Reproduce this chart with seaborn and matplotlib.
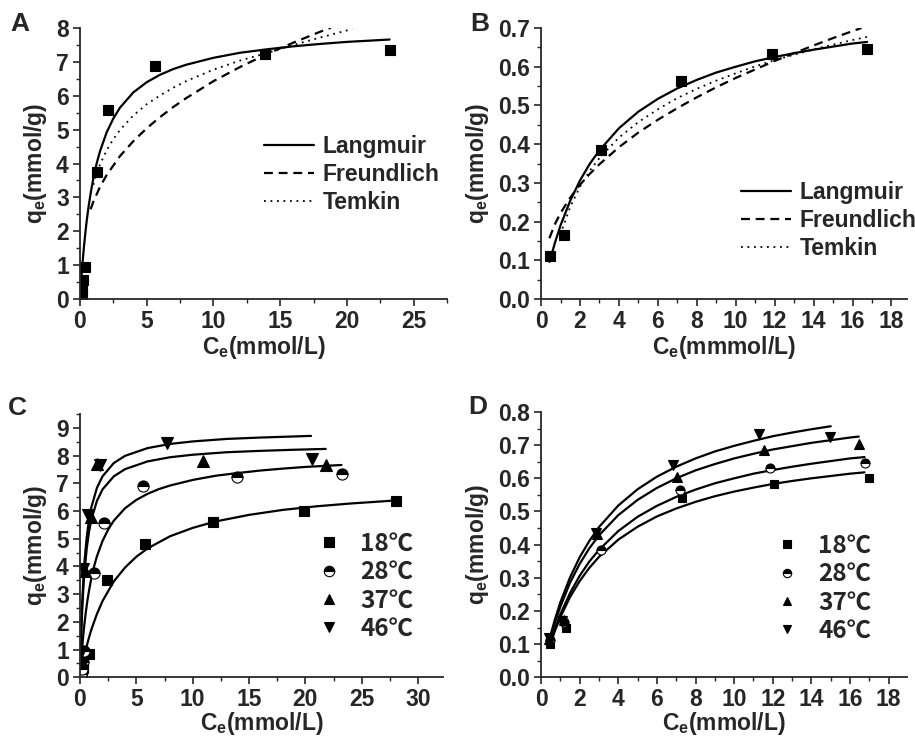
'''
    plot.py
    Adsorption isotherms (A, B) and temperature series (C, D).
'''
import matplotlib
matplotlib.use('Agg')
import matplotlib.pyplot as plt
import pandas as pd
import seaborn as sns
from matplotlib.lines import Line2D
from matplotlib.ticker import MultipleLocator

#################################################################################
# Data
#################################################################################

# panel A (28 C, high range)
A_ce = [0.12, 0.18, 0.25, 0.38, 1.25, 2.13, 5.63, 13.9, 23.25]
A_qe = [0.12, 0.30, 0.56, 0.95, 3.76, 5.58, 6.89, 7.22, 7.35]
A_lang_c = [0.05, 0.1, 0.15, 0.2, 0.3, 0.4, 0.5, 0.65, 0.8, 1, 1.25, 1.5, 2, 2.5,
            3, 4, 5, 6, 7, 8, 10, 12, 14, 16, 18, 20, 23.2]
A_lang_q = [0.31, 0.59, 0.86, 1.10, 1.55, 1.94, 2.29, 2.74, 3.12, 3.56, 4.00, 4.36,
            4.92, 5.33, 5.65, 6.10, 6.40, 6.62, 6.79, 6.92, 7.12, 7.27, 7.37, 7.46,
            7.53, 7.59, 7.66]
A_freu_c = [0.8, 1, 1.5, 2, 3, 4, 5, 6, 7, 8, 10, 12, 14, 16, 18, 18.8]
A_freu_q = [2.65, 2.87, 3.31, 3.66, 4.22, 4.66, 5.04, 5.37, 5.67, 5.94, 6.43, 6.85,
            7.23, 7.57, 7.89, 8.01]
A_temk_c = [1.0, 1.25, 1.5, 2, 2.5, 3, 4, 5, 6, 7, 8, 10, 12, 14, 16, 18, 20.4]
A_temk_q = [3.37, 3.70, 3.97, 4.39, 4.72, 4.99, 5.42, 5.75, 6.01, 6.24, 6.44, 6.77,
            7.04, 7.26, 7.50, 7.72, 7.97]

# panel B (28 C, low range)
B_ce = [0.44, 1.2, 3.08, 7.18, 11.85, 16.75]
B_qe = [0.111, 0.166, 0.385, 0.564, 0.632, 0.646]
B_lang_c = [0.44, 0.7, 1, 1.5, 2, 2.5, 3, 4, 5, 6, 7, 8, 9, 10, 11, 12, 13, 14, 15,
            16, 16.75]
B_lang_q = [0.096, 0.143, 0.190, 0.254, 0.306, 0.349, 0.384, 0.441, 0.484, 0.517,
            0.544, 0.566, 0.585, 0.600, 0.614, 0.625, 0.635, 0.644, 0.652, 0.660,
            0.664]
B_freu_c = [0.43, 0.7, 1, 1.5, 2, 2.5, 3, 4, 5, 6, 7, 8, 9, 10, 11, 12, 13, 14, 15,
            16, 16.46]
B_freu_q = [0.157, 0.192, 0.222, 0.262, 0.295, 0.323, 0.348, 0.392, 0.430, 0.463,
            0.493, 0.521, 0.547, 0.571, 0.593, 0.615, 0.635, 0.655, 0.674, 0.692,
            0.700]
B_temk_c = [1.1, 1.5, 2, 2.5, 3, 4, 5, 6, 7, 8, 9, 10, 11, 12, 13, 14, 15, 16, 16.75]
B_temk_q = [0.182, 0.238, 0.290, 0.331, 0.364, 0.417, 0.457, 0.490, 0.519, 0.543,
            0.564, 0.583, 0.601, 0.617, 0.631, 0.645, 0.657, 0.669, 0.677]

# panel C (high range, four temperatures); 28 C is the panel A set
C18_ce = [0.15, 0.3, 0.83, 2.36, 5.76, 11.82, 19.86, 28.0]
C18_qe = [0.12, 0.35, 0.84, 3.51, 4.82, 5.62, 6.00, 6.35]
C37_ce = [0.15, 0.45, 1.0, 1.5, 10.9, 21.8]
C37_qe = [0.60, 3.85, 5.80, 7.70, 7.82, 7.65]
C46_ce = [0.08, 0.3, 0.7, 1.8, 7.7, 20.6]
C46_qe = [0.90, 3.92, 5.85, 7.66, 8.45, 7.88]
C18_fit_c = [0.15, 0.3, 0.5, 0.75, 1, 1.5, 2, 3, 4, 5, 6, 8, 10, 12, 15, 18, 21, 24, 28]
C18_fit_q = [0.32, 0.62, 0.97, 1.36, 1.71, 2.28, 2.75, 3.46, 3.96, 4.35, 4.65, 5.09,
             5.39, 5.62, 5.86, 6.04, 6.17, 6.27, 6.38]
C37_fit_c = [0.03, 0.06, 0.1, 0.15, 0.2, 0.3, 0.4, 0.6, 0.8, 1, 1.5, 2, 3, 4, 6, 8,
             10, 13, 16, 19, 21.8]
C37_fit_q = [0.49, 0.93, 1.44, 1.99, 2.46, 3.22, 3.80, 4.65, 5.24, 5.67, 6.36, 6.78,
             7.25, 7.51, 7.79, 7.94, 8.03, 8.12, 8.17, 8.21, 8.24]
C46_fit_c = [0.02, 0.05, 0.1, 0.15, 0.2, 0.3, 0.4, 0.6, 0.8, 1, 1.5, 2, 3, 4, 6, 8,
             10, 13, 16, 20.5]
C46_fit_q = [0.38, 0.88, 1.61, 2.21, 2.72, 3.54, 4.17, 5.06, 5.68, 6.12, 6.83, 7.25,
             7.73, 7.99, 8.27, 8.42, 8.51, 8.60, 8.65, 8.71]

# panel D (low range, four temperatures); 28 C is the panel B set
D18_ce = [0.45, 1.28, 7.3, 12.05, 16.97]
D18_qe = [0.100, 0.149, 0.540, 0.582, 0.601]
D37_ce = [0.4, 1.17, 2.9, 7.04, 11.56, 16.48]
D37_qe = [0.114, 0.173, 0.431, 0.604, 0.685, 0.703]
D46_ce = [0.4, 1.1, 2.87, 6.82, 11.3, 14.98]
D46_qe = [0.119, 0.170, 0.434, 0.639, 0.733, 0.725]
D_fit_c = [0.45, 0.7, 1, 1.5, 2, 2.5, 3, 4, 5, 6, 7, 8, 9, 10, 11, 12, 13, 14, 15,
           16, 16.75]
D18_fit_q = [0.094, 0.137, 0.181, 0.242, 0.290, 0.330, 0.363, 0.415, 0.454, 0.485,
             0.509, 0.529, 0.546, 0.560, 0.572, 0.583, 0.592, 0.600, 0.607, 0.614,
             0.618]
D37_fit_c = [0.45, 0.7, 1, 1.5, 2, 2.5, 3, 4, 5, 6, 7, 8, 9, 10, 11, 12, 13, 14, 15,
             16, 16.45]
D37_fit_q = [0.111, 0.161, 0.213, 0.285, 0.342, 0.389, 0.428, 0.489, 0.535, 0.571,
             0.600, 0.624, 0.643, 0.660, 0.674, 0.687, 0.697, 0.707, 0.715, 0.723,
             0.726]
D46_fit_c = [0.45, 0.7, 1, 1.5, 2, 2.5, 3, 4, 5, 6, 7, 8, 9, 10, 11, 12, 13, 14, 15]
D46_fit_q = [0.118, 0.171, 0.226, 0.301, 0.362, 0.411, 0.453, 0.518, 0.567, 0.605,
             0.635, 0.660, 0.681, 0.698, 0.713, 0.727, 0.738, 0.748, 0.757]

model_labels = ['Langmuir', 'Freundlich', 'Temkin']
temp_labels = ['18\u2103', '28\u2103', '37\u2103', '46\u2103']

#################################################################################
# Style
#################################################################################

sns.set_style('ticks')
plt.rcParams['font.family'] = ['Liberation Sans', 'Noto Sans CJK SC', 'DejaVu Sans']
plt.rcParams['font.weight'] = 'bold'
plt.rcParams['axes.labelweight'] = 'bold'
plt.rcParams['mathtext.fontset'] = 'custom'
plt.rcParams['mathtext.rm'] = 'Liberation Sans:bold'
plt.rcParams['mathtext.bf'] = 'Liberation Sans:bold'

FS = 16.5
LW = 1.6
STYLES = {'solid': dict(linestyle='-', linewidth=LW),
          'dash': dict(linestyle=(0, (4, 2.6)), linewidth=LW),
          'dot': dict(linestyle=(0, (1, 2.6)), linewidth=1.3)}
MARKERS = [dict(marker='s'), dict(marker='o', fillstyle='top', markerfacecoloralt='white'),
           dict(marker='^'), dict(marker='v')]

XLAB = r'C$_\mathbf{e}$(mmol/L)'
YLAB = r'q$_\mathbf{e}$(mmol/g)'


def curve(ax, c, q, style):
    df = pd.DataFrame({'c': c, 'q': q})
    sns.lineplot(data=df, x='c', y='q', ax=ax, color='k', sort=False,
                 estimator=None, **STYLES[style])


def points(ax, c, q, mk, size):
    df = pd.DataFrame({'c': c, 'q': q})
    sns.lineplot(data=df, x='c', y='q', ax=ax, color='k', linestyle='none',
                 markeredgecolor='k', markeredgewidth=0.8, markersize=size,
                 sort=False, estimator=None, **mk)


def style_axes(ax, xlim, ylim, xmaj, ymaj, xlabel, yfmt, xpad=1):
    ax.set_xlim(*xlim)
    ax.set_ylim(*ylim)
    ax.xaxis.set_major_locator(MultipleLocator(xmaj))
    ax.xaxis.set_minor_locator(MultipleLocator(xmaj / 2))
    ax.yaxis.set_major_locator(MultipleLocator(ymaj))
    ax.yaxis.set_minor_locator(MultipleLocator(ymaj / 2))
    ax.yaxis.set_major_formatter(yfmt)
    ax.tick_params(which='major', direction='out', length=5, width=1.2,
                   labelsize=FS, pad=3)
    ax.tick_params(which='minor', direction='out', length=3, width=1.0)
    for s in ['left', 'bottom']:
        ax.spines[s].set_linewidth(1.3)
    sns.despine(ax=ax)
    ax.set_xlabel(xlabel, fontsize=FS, labelpad=xpad)
    ax.set_ylabel(YLAB, fontsize=FS, labelpad=5)
    for lab in ax.get_xticklabels() + ax.get_yticklabels():
        lab.set_fontweight('bold')


fig = plt.figure(figsize=(9.15, 7.41), dpi=100)
axA = fig.add_axes([0.0874, 0.5965, 0.4011, 0.3657])
axB = fig.add_axes([0.5913, 0.5965, 0.4000, 0.3657])
axC = fig.add_axes([0.0874, 0.0860, 0.3967, 0.3553])
axD = fig.add_axes([0.5913, 0.0860, 0.4000, 0.3580])

# panel A
curve(axA, A_lang_c, A_lang_q, 'solid')
curve(axA, A_freu_c, A_freu_q, 'dash')
curve(axA, A_temk_c, A_temk_q, 'dot')
points(axA, A_ce, A_qe, MARKERS[0], 7)
style_axes(axA, (0, 27.5), (0, 8), 5, 1, XLAB, '{x:.0f}')

# panel B
curve(axB, B_lang_c, B_lang_q, 'solid')
curve(axB, B_freu_c, B_freu_q, 'dash')
curve(axB, B_temk_c, B_temk_q, 'dot')
points(axB, B_ce, B_qe, MARKERS[0], 7)
style_axes(axB, (0, 18.8), (0, 0.7), 2, 0.1, r'C$_\mathbf{e}$(mmmol/L)', '{x:.1f}')

# panel C
curve(axC, C18_fit_c, C18_fit_q, 'solid')
curve(axC, A_lang_c, A_lang_q, 'solid')
curve(axC, C37_fit_c, C37_fit_q, 'solid')
curve(axC, C46_fit_c, C46_fit_q, 'solid')
points(axC, C18_ce, C18_qe, MARKERS[0], 7.5)
points(axC, A_ce, A_qe, MARKERS[1], 8)
points(axC, C37_ce, C37_qe, MARKERS[2], 8.5)
points(axC, C46_ce, C46_qe, MARKERS[3], 8.5)
style_axes(axC, (0, 32.2), (0, 9.5), 5, 1, XLAB, '{x:.0f}', xpad=-1)

# panel D
curve(axD, D_fit_c, D18_fit_q, 'solid')
curve(axD, B_lang_c, B_lang_q, 'solid')
curve(axD, D37_fit_c, D37_fit_q, 'solid')
curve(axD, D46_fit_c, D46_fit_q, 'solid')
points(axD, D18_ce, D18_qe, MARKERS[0], 6)
points(axD, B_ce, B_qe, MARKERS[1], 6.5)
points(axD, D37_ce, D37_qe, MARKERS[2], 7)
points(axD, D46_ce, D46_qe, MARKERS[3], 7)
style_axes(axD, (0, 18.95), (0, 0.8), 2, 0.1, XLAB, '{x:.1f}', xpad=-1)

# legends
prop = dict(size=FS, weight='bold')
for ax, anchor in [(axA, (0.74, 0.46)), (axB, (0.786, 0.289))]:
    handles = [Line2D([], [], color='k', **STYLES[s]) for s in ['solid', 'dash', 'dot']]
    ax.legend(handles, model_labels, loc='center', bbox_to_anchor=anchor,
              frameon=False, prop=prop, handlelength=2.2, handletextpad=0.35,
              labelspacing=0.22, borderpad=0)

# the degree-Celsius sign is drawn from the CJK face, as in the original
tprop = dict(size=FS + 1, weight='bold', family=['Noto Sans CJK SC', 'DejaVu Sans'])
for ax, anchor, ms in [(axC, (0.785, 0.345), 7.5), (axD, (0.77, 0.335), 6)]:
    handles = [Line2D([], [], color='k', linestyle='none', markersize=ms,
                      markeredgecolor='k', markeredgewidth=0.8, **mk) for mk in MARKERS]
    ax.legend(handles, temp_labels, loc='center', bbox_to_anchor=anchor,
              frameon=False, prop=tprop, handlelength=1.0, handletextpad=0.8,
              labelspacing=0.18, borderpad=0)

# panel letters
for x, y, letter in [(10, 12, 'A'), (470, 12, 'B'), (8, 396, 'C'), (468, 395, 'D')]:
    fig.text(x / 915, 1 - y / 741, letter, fontsize=19, fontweight='bold',
             va='top', ha='left')

plt.savefig('out.png', dpi=100)
